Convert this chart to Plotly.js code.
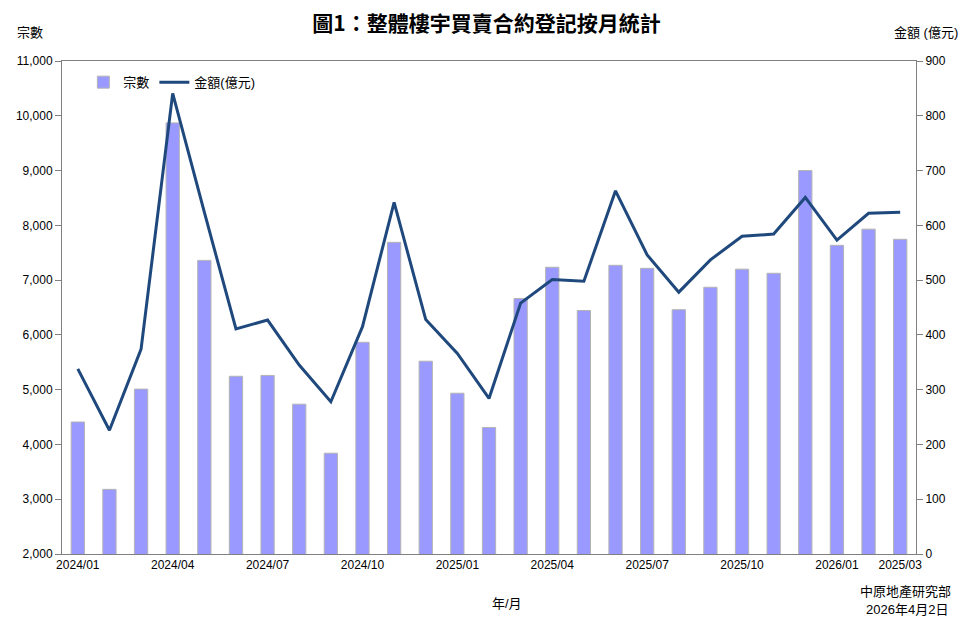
<!DOCTYPE html>
<html>
<head>
<meta charset="utf-8">
<script src="https://cdn.plot.ly/plotly-3.0.1.min.js"></script>
<style>
html,body{margin:0;padding:0;background:#fff;}
#chart{width:973px;height:630px;}
</style>
</head>
<body>
<div id="chart"></div>
<script>
// Months (categories)
const months = [
  "2024/01","2024/02","2024/03","2024/04","2024/05","2024/06","2024/07","2024/08","2024/09",
  "2024/10","2024/11","2024/12","2025/01","2025/02","2025/03","2025/04","2025/05","2025/06",
  "2025/07","2025/08","2025/09","2025/10","2025/11","2025/12","2026/01","2026/02","2026/03"
];
// 宗數 (left axis)
const cases = [
  4410, 3180, 5010, 9870, 7360, 5245, 5260, 4735, 3840,
  5865, 7690, 5520, 4935, 4310, 6665, 7235, 6445, 7270,
  7215, 6460, 6870, 7200, 7125, 9000, 7635, 7930, 7745
];
// 金額(億元) (right axis)
const amount = [
  338, 226, 374, 841, 624, 411, 427, 345, 278,
  415, 642, 428, 366, 284, 458, 501, 498, 663,
  546, 478, 537, 580, 584, 651, 573, 622, 624
];
// x tick labels as shown in the chart
const tickCats = ["2024/01","2024/04","2024/07","2024/10","2025/01","2025/04","2025/07","2025/10","2026/01","2026/03"];
const tickText = ["2024/01","2024/04","2024/07","2024/10","2025/01","2025/04","2025/07","2025/10","2026/01","2025/03"];

const latin = "Liberation Sans, Arial, Noto Sans CJK TC, sans-serif";
const cjk = "Liberation Sans, Noto Sans CJK TC, sans-serif";

const traces = [
  {
    type: "bar", name: "宗數", x: months, y: cases, yaxis: "y",
    marker: {color: "#9999ff", line: {color: "#b4b4b4", width: 1}},
    hoverinfo: "skip"
  },
  {
    type: "scatter", mode: "lines", name: "金額(億元)", x: months, y: amount, yaxis: "y2",
    line: {color: "#1f497d", width: 3},
    hoverinfo: "skip"
  }
];

const axisColor = "#808080";
const layout = {
  width: 973, height: 630,
  margin: {l: 62, r: 57, t: 61, b: 76},
  paper_bgcolor: "#fff", plot_bgcolor: "#fff",
  bargap: 0.58,
  showlegend: true,
  legend: {
    orientation: "h", x: 0.025, y: 0.957, xanchor: "left", yanchor: "middle",
    font: {family: cjk, size: 13, color: "#000"}, itemwidth: 30,
    bgcolor: "rgba(0,0,0,0)", traceorder: "normal"
  },
  title: {
    text: "<b>圖1：整體樓宇買賣合約登記按月統計</b>",
    x: 0.5, xanchor: "center", y: 0.962, yanchor: "middle",
    font: {family: "Noto Sans CJK TC, sans-serif", size: 21, color: "#000"}
  },
  xaxis: {
    type: "category", categoryorder: "array", categoryarray: months,
    tickmode: "array", tickvals: tickCats, ticktext: tickText,
    showline: true, linecolor: axisColor, linewidth: 1, mirror: true,
    ticks: "", showgrid: false, zeroline: false,
    tickfont: {family: latin, size: 12, color: "#000"},
    tickangle: 0, range: [-0.5, 26.5]
  },
  yaxis: {
    range: [2000, 11000], dtick: 1000, tick0: 2000,
    tickformat: ",d", showgrid: false, zeroline: false,
    showline: true, linecolor: axisColor, linewidth: 1,
    ticks: "outside", ticklen: 6, tickcolor: axisColor,
    tickfont: {family: latin, size: 12, color: "#000"}
  },
  yaxis2: {
    overlaying: "y", side: "right",
    range: [0, 900], dtick: 100, tick0: 0,
    showgrid: false, zeroline: false,
    showline: true, linecolor: axisColor, linewidth: 1,
    ticks: "outside", ticklen: 6, tickcolor: axisColor,
    tickfont: {family: latin, size: 12, color: "#000"}
  },
  annotations: [
    {text: "宗數", xref: "paper", yref: "paper", x: -0.038, y: 1.057, xanchor: "center", yanchor: "middle",
     showarrow: false, font: {family: cjk, size: 13, color: "#000"}},
    {text: "金額 (億元)", xref: "paper", yref: "paper", x: 1.0515, y: 1.057, xanchor: "right", yanchor: "middle",
     showarrow: false, font: {family: cjk, size: 13, color: "#000"}},
    {text: "年/月", xref: "paper", yref: "paper", x: 0.521, y: -0.1, xanchor: "center", yanchor: "middle",
     showarrow: false, font: {family: cjk, size: 13, color: "#000"}},
    {text: "中原地產研究部", xref: "paper", yref: "paper", x: 1.043, y: -0.077, xanchor: "right", yanchor: "middle",
     showarrow: false, font: {family: cjk, size: 13, color: "#000"}},
    {text: "2026年4月2日", xref: "paper", yref: "paper", x: 1.04, y: -0.112, xanchor: "right", yanchor: "middle",
     showarrow: false, font: {family: cjk, size: 13, color: "#000"}}
  ]
};

Plotly.newPlot("chart", traces, layout, {displayModeBar: false, staticPlot: true});
</script>
</body>
</html>
